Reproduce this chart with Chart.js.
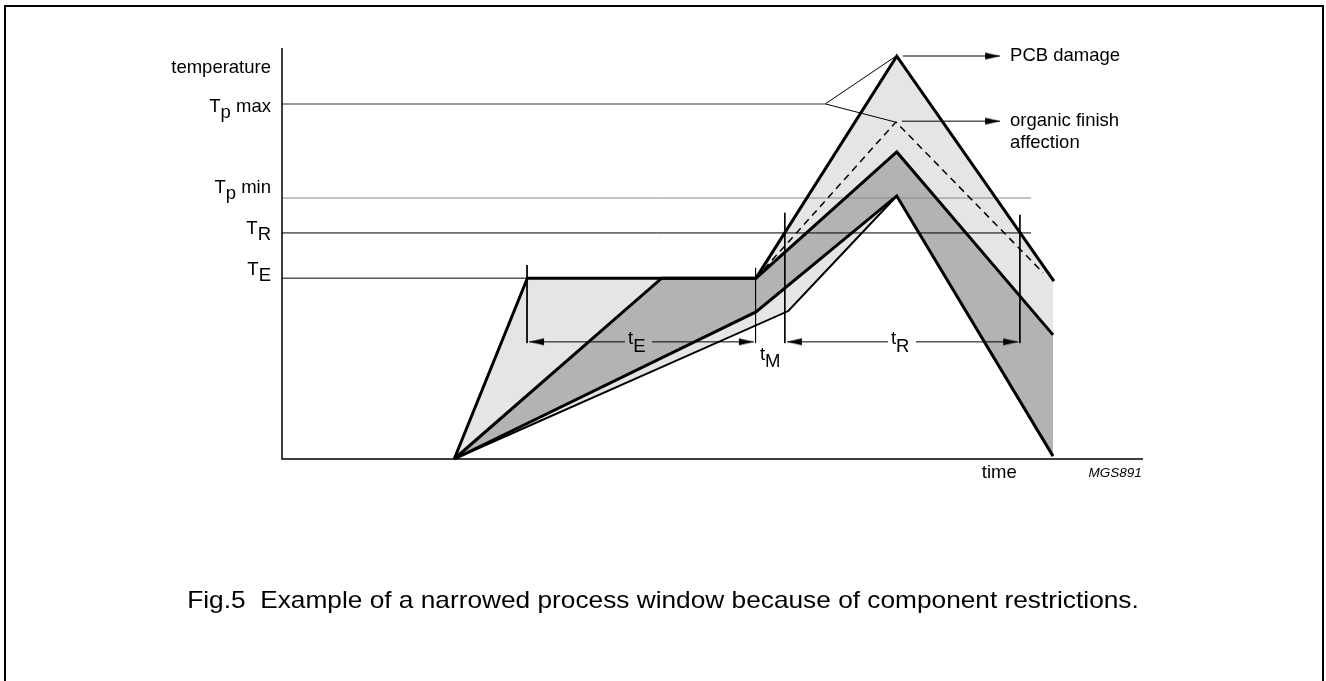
<!DOCTYPE html>
<html>
<head>
<meta charset="utf-8">
<script src="https://cdn.jsdelivr.net/npm/chart.js@4.4.1/dist/chart.umd.min.js"></script>
<style>
  html, body { margin: 0; padding: 0; background: #fff; }
  #page { position: relative; width: 1326px; height: 681px; overflow: hidden; }
  #frame { position: absolute; left: 4px; top: 5px; width: 1316px; height: 700px; border: 2px solid #000; }
  #chart { position: absolute; left: 0; top: 0; }
  #caption { position: absolute; left: 0; width: 1326px; top: 585px; text-align: center;
             font: 24px "Liberation Sans", Arial, sans-serif; color: #000; line-height: 30px;
             transform: scaleX(1.094); transform-origin: 663px 0; white-space: nowrap; }
</style>
</head>
<body>
<div id="page">
  <div id="frame"></div>
  <canvas id="chart" width="1326" height="681"></canvas>
  <div id="caption">Fig.5&nbsp;&nbsp;Example of a narrowed process window because of component restrictions.</div>
</div>
<script>
// schematic units: time 0..100, temperature 0..100
const X_MAX = 100;
const Y_MAX = 100;

// temperature levels (label parts: main, subscript, rest)
const levelMain = ['T', 'T', 'T', 'T'];
const levelSub = ['p', 'p', 'R', 'E'];
const levelRest = [' max', ' min', '', ''];
const levelY = [86.4, 63.5, 55.0, 44.0];
const levelEnd = [63.1, 87.0, 87.0, 28.5];

// profiles
const pcbX = [20, 28.5, 55.05, 71.4, 89.65];
const pcbY = [0, 44, 44, 98, 43.3];
const organicX = [55.05, 71.3, 88.4];
const organicY = [44, 82, 45.3];
const upperX = [20, 44.1, 55.05, 71.4, 89.55];
const upperY = [0, 44, 44, 74.7, 30.2];
const lowerX = [20, 55.05, 71.4, 89.55];
const lowerY = [0, 35.8, 64, 0.7];
const innerX = [20, 58.8, 71.4];
const innerY = [0, 36, 64];

// time markers and dimension arrows
const markerX = [28.46, 55.0, 58.4, 85.7];
const markerTop = [47.2, 46.5, 59.9, 59.4];
const markerBottom = 28.2;
const dimY = 28.5;
const dimFrom = [28.7, 58.65];
const dimTo = [54.8, 85.5];
const dimGapFrom = [39.84, 70.38];
const dimGapTo = [42.97, 73.64];
const dimLabel = ['t', 't'];
const dimSub = ['E', 'R'];
const dimLabelX = [41.2, 71.8];

// pointers from Tp max to the two peaks
const pointerFrom = { x: 63.1, y: 86.4 };
const pointerTo = [{ x: 71.3, y: 98 }, { x: 71.2, y: 82 }];
const calloutFrom = [72.1, 72.0];
const calloutTo = 83.4;
const calloutY = [98.05, 82.2];
const calloutText = [['PCB damage'], ['organic finish', 'affection']];

// styling
const levelColor = ['#777', '#888', '#000', '#000'];
const levelLabelDy = [7.7, -5.3, 1.5, -3];
const FONT = '18.5px "Liberation Sans", Arial, sans-serif';
const LIGHT = '#e5e5e5';
const DARK = '#b3b3b3';

const pts = (xs, ys) => xs.map((x, i) => ({ x, y: ys[i] }));

// arrowhead image, tip at the centre, pointing right
function arrowHead() {
  const c = document.createElement('canvas');
  c.width = 32; c.height = 9;
  const g = c.getContext('2d');
  g.fillStyle = '#000';
  g.beginPath();
  g.moveTo(16, 4.5);
  g.lineTo(1, 1);
  g.lineTo(1, 8);
  g.closePath();
  g.fill();
  return c;
}
const HEAD = arrowHead();

function line(data, width, color, extra) {
  return Object.assign({
    data, showLine: true, borderColor: color, borderWidth: width,
    pointRadius: 0, fill: false, clip: false, tension: 0
  }, extra || {});
}

const datasets = [];
// 0..4 : filled profile boundaries
datasets.push(line(pts(pcbX, pcbY), 3, '#000', { fill: 1, backgroundColor: LIGHT, borderJoinStyle: 'miter' }));
datasets.push(line(pts(upperX, upperY), 3, '#000', { fill: 2, backgroundColor: DARK, borderJoinStyle: 'miter' }));
datasets.push(line(pts(lowerX, lowerY), 3, '#000', { fill: 3, backgroundColor: LIGHT, borderJoinStyle: 'miter' }));
datasets.push(line(pts(innerX, innerY), 2, '#000'));
datasets.push(line(pts(organicX, organicY), 1.5, '#000', { borderDash: [7, 5] }));

// axes
datasets.push(line([{ x: 0, y: Y_MAX }, { x: 0, y: 0 }, { x: X_MAX, y: 0 }], 1.5, '#000', { order: 2 }));

// temperature levels
levelY.forEach((v, i) => {
  datasets.push(line([{ x: 0, y: v }, { x: levelEnd[i], y: v }], i === 0 ? 1.5 : 1, levelColor[i], { order: 3 }));
});

// time markers
markerX.forEach((m, i) => {
  datasets.push(line([{ x: m, y: markerTop[i] }, { x: m, y: markerBottom }], 1, '#000', { order: 3 }));
});

// dimension arrow shafts, broken for the label
dimFrom.forEach((f, i) => {
  datasets.push(line([{ x: f, y: dimY }, { x: dimGapFrom[i], y: dimY }], 1, '#000', { order: 3 }));
  datasets.push(line([{ x: dimGapTo[i], y: dimY }, { x: dimTo[i], y: dimY }], 1, '#000', { order: 3 }));
});

// pointers and callout shafts
pointerTo.forEach(p => {
  datasets.push(line([pointerFrom, p], 1, '#000', { order: 3 }));
});
calloutFrom.forEach((f, i) => {
  datasets.push(line([{ x: f, y: calloutY[i] }, { x: calloutTo, y: calloutY[i] }], 1, '#000', { order: 3 }));
});

// arrowheads
const headPts = [];
const headRot = [];
dimFrom.forEach((f, i) => {
  headPts.push({ x: f, y: dimY }); headRot.push(180);
  headPts.push({ x: dimTo[i], y: dimY }); headRot.push(0);
});
calloutY.forEach(v => { headPts.push({ x: calloutTo, y: v }); headRot.push(0); });
datasets.push({
  data: headPts, showLine: false, pointStyle: HEAD, pointRadius: 4,
  pointRotation: headRot, clip: false, order: 0
});

function subText(ctx, parts, x, y, align) {
  // parts: [text, dy]
  const w = parts.reduce((s, p) => s + ctx.measureText(p[0]).width, 0);
  let cx = align === 'right' ? x - w : align === 'center' ? x - w / 2 : x;
  parts.forEach(p => {
    ctx.fillText(p[0], cx, y + p[1]);
    cx += ctx.measureText(p[0]).width;
  });
}

const labels = {
  id: 'labels',
  afterDatasetsDraw(chart) {
    const { ctx, chartArea } = chart;
    const xs = chart.scales.x, ys = chart.scales.y;
    ctx.save();
    ctx.font = FONT;
    ctx.fillStyle = '#000';
    ctx.textBaseline = 'alphabetic';
    ctx.textAlign = 'left';
    const axisX = chartArea.left - 11;

    subText(ctx, [['temperature', 0]], axisX, ys.getPixelForValue(95.4) + 6, 'right');
    levelY.forEach((v, i) => {
      const py = ys.getPixelForValue(v) + levelLabelDy[i];
      subText(ctx, [[levelMain[i], 0], [levelSub[i], 6], [levelRest[i], 0]], axisX, py, 'right');
    });

    // dimension labels sit in the gap of the shaft
    dimLabel.forEach((t, i) => {
      const px = xs.getPixelForValue(dimLabelX[i]);
      const py = ys.getPixelForValue(dimY);
      subText(ctx, [[t, 0], [dimSub[i], 8]], px, py + 2, 'center');
    });
    // t_M under the gap between the markers
    subText(ctx, [['t', 0], ['M', 7]], (xs.getPixelForValue(markerX[1]) + xs.getPixelForValue(markerX[2])) / 2,
      ys.getPixelForValue(dimY) + 18, 'center');

    // callouts
    calloutText.forEach((lines, i) => {
      const px = xs.getPixelForValue(calloutTo) + 10;
      const py = ys.getPixelForValue(calloutY[i]) + 5;
      lines.forEach((l, j) => ctx.fillText(l, px, py + j * 22));
    });

    // axis name and figure code
    ctx.textAlign = 'center';
    ctx.fillText('time', xs.getPixelForValue(83.3), ys.getPixelForValue(0) + 19);
    ctx.font = 'italic 13.5px "Liberation Sans", Arial, sans-serif';
    ctx.fillText('MGS891', xs.getPixelForValue(96.75), ys.getPixelForValue(0) + 18);
    ctx.restore();
  }
};

new Chart(document.getElementById('chart'), {
  type: 'scatter',
  data: { datasets },
  options: {
    responsive: false,
    animation: false,
    events: [],
    layout: { padding: { left: 282, right: 183, top: 48, bottom: 222 } },
    scales: {
      x: { type: 'linear', min: 0, max: X_MAX, display: false },
      y: { type: 'linear', min: 0, max: Y_MAX, display: false }
    },
    plugins: {
      legend: { display: false },
      tooltip: { enabled: false },
      filler: { drawTime: 'beforeDatasetsDraw', propagate: false }
    }
  },
  plugins: [labels]
});
</script>
</body>
</html>
